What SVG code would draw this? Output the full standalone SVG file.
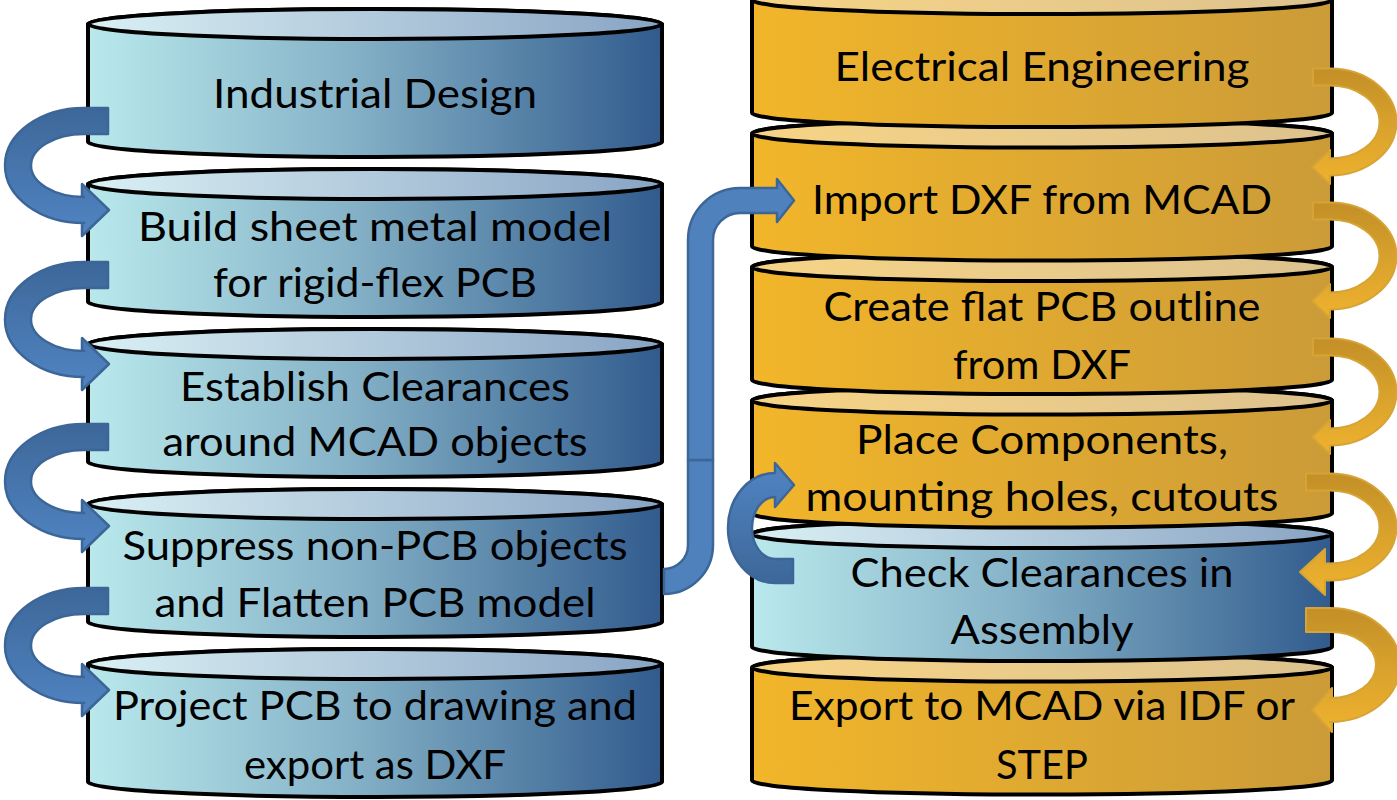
<svg xmlns="http://www.w3.org/2000/svg" width="1397" height="800" viewBox="0 0 1397 800">
<defs>
<linearGradient id="blueBody" x1="0" y1="0" x2="1" y2="0"><stop offset="0" stop-color="#b9e9ec"/><stop offset="0.45" stop-color="#86b3c8"/><stop offset="1" stop-color="#315b8d"/></linearGradient>
<linearGradient id="blueTop" x1="0" y1="0" x2="1" y2="0"><stop offset="0" stop-color="#daf0f4"/><stop offset="1" stop-color="#89a4c4"/></linearGradient>
<linearGradient id="orBody" x1="0" y1="0" x2="1" y2="0"><stop offset="0" stop-color="#f2b62a"/><stop offset="1" stop-color="#cb9b38"/></linearGradient>
<linearGradient id="orTop" x1="0" y1="0" x2="1" y2="0"><stop offset="0" stop-color="#f7d486"/><stop offset="1" stop-color="#dcc28e"/></linearGradient>
<linearGradient id="blueArr" x1="0" y1="0" x2="0" y2="1"><stop offset="0" stop-color="#3d6799"/><stop offset="0.5" stop-color="#4776ae"/><stop offset="1" stop-color="#5084c2"/></linearGradient>
<linearGradient id="blueArrUp" x1="0" y1="1" x2="0" y2="0"><stop offset="0" stop-color="#3d6799"/><stop offset="0.5" stop-color="#4776ae"/><stop offset="1" stop-color="#5084c2"/></linearGradient>
<linearGradient id="orArr" x1="0" y1="0" x2="0" y2="1"><stop offset="0" stop-color="#c38f27"/><stop offset="0.5" stop-color="#d9a22c"/><stop offset="1" stop-color="#efb22e"/></linearGradient>
</defs>
<style>
.cyl{stroke:#000;stroke-width:4;stroke-linejoin:round}
.bb{fill:url(#blueBody)} .bt{fill:url(#blueTop)}
.ob{fill:url(#orBody)} .ot{fill:url(#orTop)}
.t{font-family:Lato,"Open Sans","Liberation Sans",sans-serif;font-size:41px;fill:#000;text-anchor:middle}
.ba{fill:url(#blueArr);stroke:#3c6697;stroke-width:2.5;stroke-linejoin:round}
.bau{fill:url(#blueArrUp);stroke:#3c6697;stroke-width:2.5;stroke-linejoin:round}
.bc{fill:#4f81bd;stroke:#3c6697;stroke-width:2.5;stroke-linejoin:round}
.oa{fill:url(#orArr);stroke:#d6a436;stroke-width:2;stroke-linejoin:round}
</style>

<!-- Right column (drawn bottom first) -->
<g id="r6">
<path class="cyl ob" d="M752,667.5 V780.5 A290,14 0 0 0 1332,780.5 V667.5 A290,14 0 0 0 752,667.5 Z"/>
<ellipse class="cyl ot" cx="1042" cy="667.5" rx="290" ry="14"/>
<text class="t" x="1042" y="720" textLength="506" lengthAdjust="spacingAndGlyphs">Export to MCAD via IDF or</text>
<text class="t" x="1042" y="779" textLength="92" lengthAdjust="spacingAndGlyphs">STEP</text>
</g>
<g id="r5">
<path class="cyl bb" d="M752,534 V647 A290,14 0 0 0 1332,647 V534 A290,14 0 0 0 752,534 Z"/>
<ellipse class="cyl bt" cx="1042" cy="534" rx="290" ry="14"/>
<text class="t" x="1042" y="587" textLength="383" lengthAdjust="spacingAndGlyphs">Check Clearances in</text>
<text class="t" x="1042" y="644" textLength="183" lengthAdjust="spacingAndGlyphs">Assembly</text>
</g>
<g id="r4">
<path class="cyl ob" d="M752,400.5 V513.5 A290,14 0 0 0 1332,513.5 V400.5 A290,14 0 0 0 752,400.5 Z"/>
<ellipse class="cyl ot" cx="1042" cy="400.5" rx="290" ry="14"/>
<text class="t" x="1042" y="454" textLength="372" lengthAdjust="spacingAndGlyphs">Place Components,</text>
<text class="t" x="1042" y="511" textLength="473" lengthAdjust="spacingAndGlyphs">mounting holes, cutouts</text>
</g>
<g id="r3">
<path class="cyl ob" d="M752,267 V380 A290,14 0 0 0 1332,380 V267 A290,14 0 0 0 752,267 Z"/>
<ellipse class="cyl ot" cx="1042" cy="267" rx="290" ry="14"/>
<text class="t" x="1042" y="321" textLength="437" lengthAdjust="spacingAndGlyphs">Create flat PCB outline</text>
<text class="t" x="1042" y="379" textLength="178" lengthAdjust="spacingAndGlyphs">from DXF</text>
</g>
<g id="r2">
<path class="cyl ob" d="M752,133.5 V246.5 A290,14 0 0 0 1332,246.5 V133.5 A290,14 0 0 0 752,133.5 Z"/>
<ellipse class="cyl ot" cx="1042" cy="133.5" rx="290" ry="14"/>
<text class="t" x="1042" y="214" textLength="460" lengthAdjust="spacingAndGlyphs">Import DXF from MCAD</text>
</g>
<g id="r1">
<path class="cyl ob" d="M752,0 V113 A290,14 0 0 0 1332,113 V0 A290,14 0 0 0 752,0 Z"/>
<ellipse class="cyl ot" cx="1042" cy="0" rx="290" ry="14"/>
<text class="t" x="1042" y="81" textLength="415" lengthAdjust="spacingAndGlyphs">Electrical Engineering</text>
</g>

<!-- Left column -->
<g id="l1">
<path class="cyl bb" d="M88,24 V142 A287,15 0 0 0 662,142 V24 A287,15 0 0 0 88,24 Z"/>
<ellipse class="cyl bt" cx="375" cy="24" rx="287" ry="15"/>
<text class="t" x="375" y="108" textLength="324" lengthAdjust="spacingAndGlyphs">Industrial Design</text>
</g>
<g id="l2">
<path class="cyl bb" d="M88,184 V302 A287,15 0 0 0 662,302 V184 A287,15 0 0 0 88,184 Z"/>
<ellipse class="cyl bt" cx="375" cy="184" rx="287" ry="15"/>
<text class="t" x="375" y="241" textLength="474" lengthAdjust="spacingAndGlyphs">Build sheet metal model</text>
<text class="t" x="375" y="297" textLength="324" lengthAdjust="spacingAndGlyphs">for rigid-flex PCB</text>
</g>
<g id="l3">
<path class="cyl bb" d="M88,344 V462 A287,15 0 0 0 662,462 V344 A287,15 0 0 0 88,344 Z"/>
<ellipse class="cyl bt" cx="375" cy="344" rx="287" ry="15"/>
<text class="t" x="375" y="401" textLength="390" lengthAdjust="spacingAndGlyphs">Establish Clearances</text>
<text class="t" x="375" y="456" textLength="425" lengthAdjust="spacingAndGlyphs">around MCAD objects</text>
</g>
<g id="l4">
<path class="cyl bb" d="M88,504 V622 A287,15 0 0 0 662,622 V504 A287,15 0 0 0 88,504 Z"/>
<ellipse class="cyl bt" cx="375" cy="504" rx="287" ry="15"/>
<text class="t" x="375" y="560" textLength="505" lengthAdjust="spacingAndGlyphs">Suppress non-PCB objects</text>
<text class="t" x="375" y="617" textLength="441" lengthAdjust="spacingAndGlyphs">and Flatten PCB model</text>
</g>
<g id="l5">
<path class="cyl bb" d="M88,664 V782 A287,15 0 0 0 662,782 V664 A287,15 0 0 0 88,664 Z"/>
<ellipse class="cyl bt" cx="375" cy="664" rx="287" ry="15"/>
<text class="t" x="375" y="720" textLength="524" lengthAdjust="spacingAndGlyphs">Project PCB to drawing and</text>
<text class="t" x="375" y="779" textLength="262" lengthAdjust="spacingAndGlyphs">export as DXF</text>
</g>

<!-- Connectors -->
<g id="connectors">
<path class="ba" d="M108,108 L84,108 A79,57.5 0 0 0 84,223 L82,223 L82,236 L109,210 L82,184 L82,197 L84,197 A53,31.5 0 0 1 84,134 L108,134 Z"/>
<path class="ba" d="M108,262 L84,262 A79,57.5 0 0 0 84,377 L82,377 L82,390 L109,364 L82,338 L82,351 L84,351 A53,31.5 0 0 1 84,288 L108,288 Z"/>
<path class="ba" d="M108,424 L84,424 A79,57.5 0 0 0 84,539 L82,539 L82,552 L109,526 L82,500 L82,513 L84,513 A53,31.5 0 0 1 84,450 L108,450 Z"/>
<path class="ba" d="M108,588 L84,588 A79,57.5 0 0 0 84,703 L82,703 L82,716 L109,690 L82,664 L82,677 L84,677 A53,31.5 0 0 1 84,614 L108,614 Z"/>
<path class="bc" d="M664,569 A24,24 0 0 0 688,545 L688,460 L713,460 L713,545 A49,49 0 0 1 664,594 Z"/>
<path class="bc" d="M688,460 L688,240 A52,52 0 0 1 740,188 L777,188 L777,179 L794,200.5 L777,222 L777,213 L740,213 A27,27 0 0 0 713,240 L713,460 Z"/>
<path class="bau" d="M793,583 L775,583 A47,55 0 0 1 775,473 L775,463 L794,485 L775,507 L775,497 A23,31 0 0 0 775,559 L793,559 Z"/>
<path class="oa" d="M1313,68.5 L1330,68.5 A66.5,53.5 0 0 1 1330,175.5 L1330,184 L1312,167 L1330,150 L1330,158.5 A49.5,36.5 0 0 0 1330,85.5 L1313,85.5 Z"/>
<path class="oa" d="M1313,202.5 L1330,202.5 A66.5,53.5 0 0 1 1330,309.5 L1330,318 L1312,301 L1330,284 L1330,292.5 A49.5,36.5 0 0 0 1330,219.5 L1313,219.5 Z"/>
<path class="oa" d="M1313,338.5 L1330,338.5 A66.5,53.5 0 0 1 1330,445.5 L1330,454 L1312,437 L1330,420 L1330,428.5 A49.5,36.5 0 0 0 1330,355.5 L1313,355.5 Z"/>
<path class="oa" d="M1306,473.5 L1330,473.5 A66.5,53.5 0 0 1 1330,580.5 L1325,580.5 L1325,595 L1300,572 L1325,549 L1325,563.5 L1330,563.5 A49.5,36.5 0 0 0 1330,490.5 L1306,490.5 Z"/>
<path class="oa" d="M1306,608 L1330,608 A70,57 0 0 1 1330,722 L1332,722 L1332,732 L1312,710 L1332,688 L1332,698 L1330,698 A46,33 0 0 0 1330,632 L1306,632 Z"/>
</g>
</svg>
